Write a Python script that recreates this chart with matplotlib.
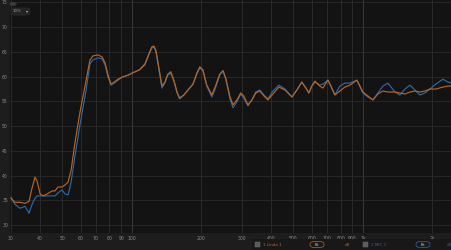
import matplotlib
matplotlib.use("Agg")
import matplotlib.pyplot as plt
from matplotlib.patches import FancyBboxPatch, Rectangle, Circle

## Data (frequency in Hz, level in dB)

freq = [30, 31.2, 32.8, 34.5, 35.9, 37.0, 38.1, 38.9, 40.1, 41.3,
        43.0, 45.2, 46.5, 47.9, 49.9, 51.4, 53.0, 54.6, 56.8, 59.7,
        63.4, 65.9, 67.9, 71.4, 74.3, 76.6, 78.9, 81.3, 83.8, 87.2,
        90.7, 96.3, 100, 108, 114, 118.5, 122, 124.5, 127, 131,
        135, 139, 143, 147.5, 152, 157, 161, 168, 175, 184,
        191, 197, 203, 211, 222, 231, 240, 248, 255, 266,
        274, 285, 296, 305, 318, 331, 344, 358, 373, 388,
        408, 433, 460, 493, 518, 544, 567, 584, 601, 620,
        651, 671, 706, 727, 756, 795, 836, 879, 942, 1000,
        1051, 1105, 1161, 1221, 1283, 1376, 1446, 1520, 1598, 1679,
        1765, 1855, 1950, 2070, 2220, 2333, 2428]

linda_db = [35.4, 34.6, 34.6, 34.4, 34.8, 37.5, 39.7, 38.9, 36.3, 35.9,
            36.3, 36.9, 36.9, 37.7, 37.7, 38.1, 38.7, 41.1, 46.8, 52.9,
            59.3, 63.4, 64.2, 64.4, 64.0, 62.8, 60.3, 58.5, 58.9, 59.5,
            59.9, 60.3, 60.7, 61.4, 62.6, 64.6, 66.0, 66.2, 65.4, 61.8,
            58.1, 58.9, 60.5, 61.0, 59.3, 56.9, 55.7, 56.3, 57.3, 58.5,
            60.7, 62.0, 61.4, 58.3, 56.3, 58.3, 60.5, 61.2, 59.7, 55.9,
            54.3, 55.3, 56.7, 56.1, 54.3, 55.3, 56.7, 57.1, 56.1, 55.3,
            56.5, 57.9, 57.3, 55.9, 57.3, 58.9, 57.7, 56.7, 58.1, 59.1,
            58.1, 57.7, 59.3, 58.1, 56.3, 57.1, 57.9, 58.3, 59.3, 56.9,
            56.1, 55.3, 56.5, 57.1, 56.9, 56.9, 56.7, 56.5, 56.9, 57.1,
            56.9, 57.1, 57.5, 57.5, 57.9, 58.1, 58.1]

mic_db = [35.6, 34.2, 33.4, 33.8, 32.4, 34.2, 35.4, 35.9, 35.9, 35.9,
          35.9, 35.9, 35.9, 36.5, 37.1, 36.3, 36.1, 38.7, 44.1, 50.4,
          57.3, 62.6, 63.4, 63.8, 63.6, 62.4, 59.9, 58.3, 58.7, 59.3,
          59.9, 60.3, 60.7, 61.4, 62.4, 64.4, 65.8, 66.0, 65.2, 61.4,
          57.7, 58.7, 60.3, 60.7, 59.1, 56.7, 55.5, 56.3, 57.3, 58.5,
          60.5, 61.8, 61.2, 58.1, 55.9, 57.9, 60.3, 61.2, 59.5, 55.5,
          53.7, 54.9, 56.5, 55.7, 54.1, 55.3, 56.9, 57.3, 56.3, 55.5,
          57.1, 58.3, 57.5, 55.9, 57.3, 58.9, 57.7, 56.7, 58.1, 58.9,
          58.3, 58.5, 59.3, 58.1, 56.3, 58.1, 58.7, 58.7, 59.3, 56.7,
          55.9, 55.3, 56.7, 58.1, 58.7, 56.9, 56.3, 57.5, 58.3, 57.3,
          56.3, 56.7, 57.5, 58.5, 59.5, 58.9, 58.7]

x_ticks = [30, 40, 50, 60, 70, 80, 90, 100, 200, 300, 400, 500, 600, 700, 800, 900, 1000, 2000]
x_labels = ['30', '40', '50', '60', '70', '80', '90', '100', '200', '300', '400',
            '500', '600', '700', '800', '900', '1k', '2k']
y_ticks = [30, 35, 40, 45, 50, 55, 60, 65, 70, 75]

## Colours

ORANGE = '#b8651f'
BLUE = '#2c68a8'
BG = '#1d1d1d'
PLOT_BG = '#131313'
GRID = '#2a2a2a'
TXT = '#8c8c8c'

## Figure

fig = plt.figure(figsize=(4.52, 2.5), dpi=100, facecolor=BG)
ax = fig.add_axes([10 / 452, 1 - 233 / 250, 442 / 452, 233 / 250])
ax.set_facecolor(PLOT_BG)
ax.set_xscale('log')
ax.set_xlim(29.7, 2430)
ax.set_ylim(28.4, 75.5)

# grid
for f in x_ticks:
    c = '#3b3b3b' if f in (100, 1000) else GRID
    ax.axvline(f, color=c, linewidth=0.7, zorder=0)
for d in y_ticks:
    ax.axhline(d, color=GRID, linewidth=0.6, zorder=0)

ax.plot(freq, mic_db, color=BLUE, linewidth=0.85, zorder=2)
ax.plot(freq, linda_db, color=ORANGE, linewidth=0.85, zorder=3)

ax.set_xticks(x_ticks)
ax.set_xticklabels(x_labels)
ax.set_yticks(y_ticks)
ax.minorticks_off()
ax.tick_params(axis='both', length=0, labelsize=3.3, labelcolor=TXT, pad=2)
ax.tick_params(axis='y', pad=1.5)
for s in ax.spines.values():
    s.set_visible(False)

## Top-left widgets
fig.patches.append(Circle((13 / 452, 1 - 4 / 250), 0.008, transform=fig.transFigure,
                          facecolor='#3a3a3a', edgecolor='none'))
fig.patches.append(FancyBboxPatch((11 / 452, 1 - 15 / 250), 19 / 452, 7 / 250,
                                  boxstyle='round,pad=0,rounding_size=0.006',
                                  transform=fig.transFigure, facecolor='#232323',
                                  edgecolor='#2e2e2e', linewidth=0.5))
fig.text(13 / 452, 1 - 11.5 / 250, '10%', fontsize=2.8, color='#9a9a9a', va='center')
fig.text(27 / 452, 1 - 11.5 / 250, '\u25be', fontsize=3, color='#bbbbbb', va='center', ha='center')

## Bottom legend bar
fig.patches.append(Rectangle((252 / 452, 0), 200 / 452, 11 / 250, transform=fig.transFigure,
                             facecolor='#181818', edgecolor='none'))
yl = 1 - 244.5 / 250
for cx, name, col, px, dbx in [(258, '1 Linda 1', ORANGE, 310, 347),
                               (366, '2 MIC C', BLUE, 416, 449)]:
    fig.patches.append(Rectangle(((cx - 2.5) / 452, yl - 2.5 / 250), 5 / 452, 5 / 250,
                                 transform=fig.transFigure, facecolor='#5a5a5a',
                                 edgecolor='#777777', linewidth=0.3))
    fig.text((cx + 5) / 452, yl, name, fontsize=3.0, color=col, va='center')
    fig.patches.append(FancyBboxPatch((px / 452, yl - 3 / 250), 14 / 452, 6 / 250,
                                      boxstyle='round,pad=0,rounding_size=0.01',
                                      transform=fig.transFigure, facecolor='#1a1a1a',
                                      edgecolor=col, linewidth=0.5))
    fig.text((px + 7) / 452, yl, 'Fit', fontsize=2.8, color='#cccccc', va='center', ha='center')
    fig.text(dbx / 452, yl, 'dB', fontsize=2.8, color=col, va='center', ha='center')

fig.savefig('out.png', dpi=100, facecolor=BG)
